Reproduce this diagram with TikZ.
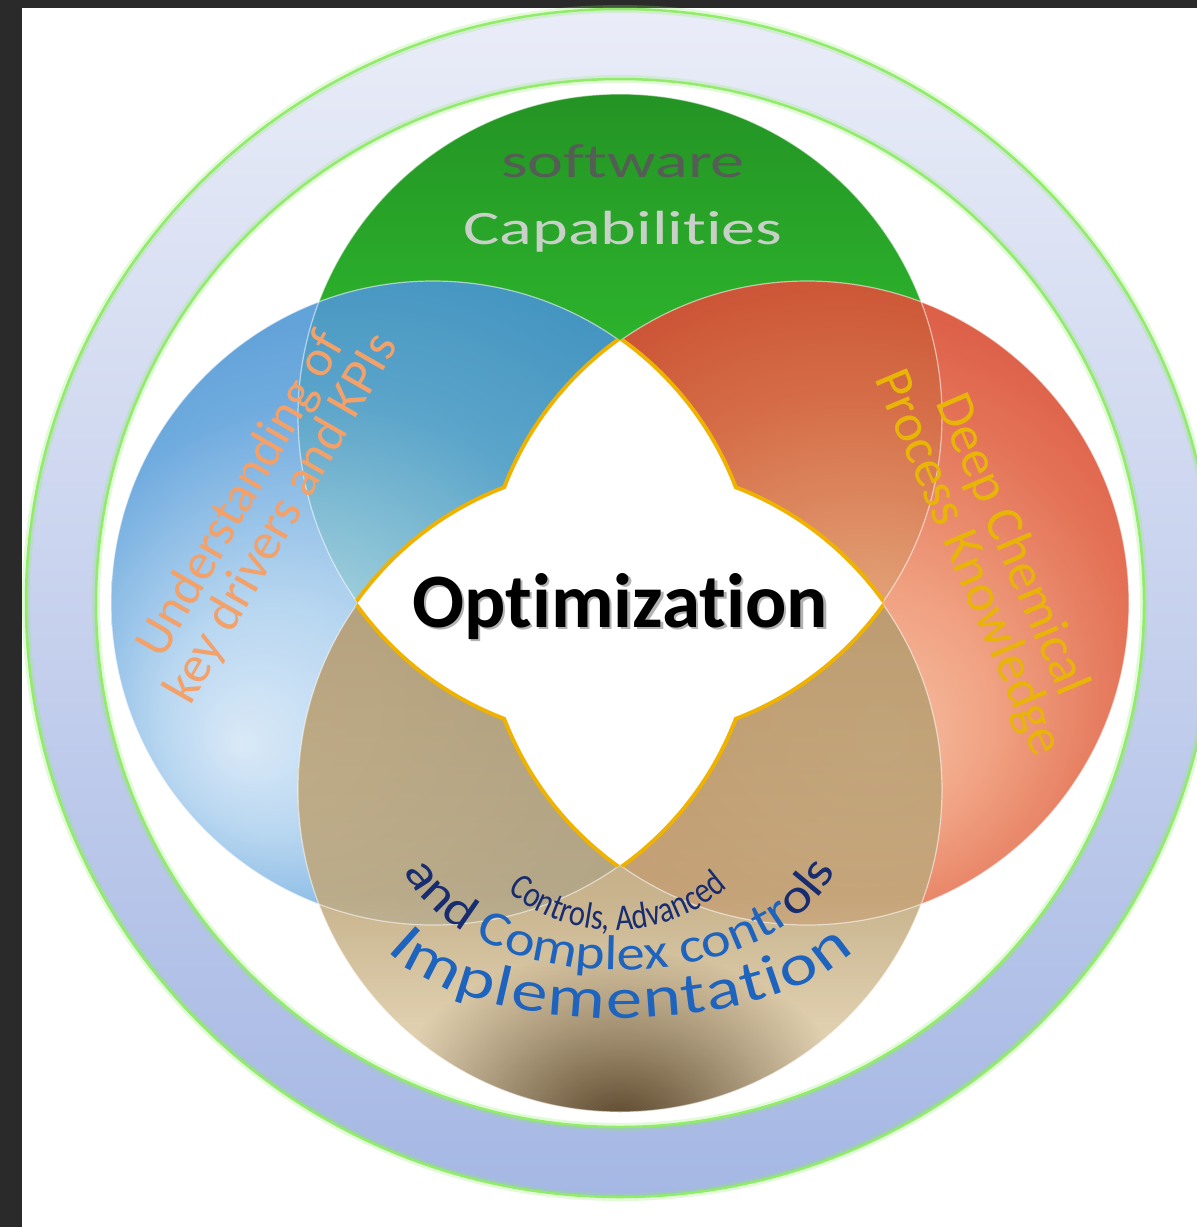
\documentclass[tikz,border=0pt]{standalone}
\usepackage{fontspec}
\setmainfont{Carlito}[Ligatures=NoCommon]
\newfontfamily\narrowfont{Carlito}[FakeStretch=0.82, Ligatures=NoCommon]
\newfontfamily\widefont{Carlito}[FakeStretch=1.15, Ligatures=NoCommon]
\newfontfamily\xwidefont{Carlito}[FakeStretch=1.25, Ligatures=NoCommon]
\usetikzlibrary{decorations.text,fadings}

\definecolor{framedark}{RGB}{42,42,42}
\definecolor{ringtop}{RGB}{234,237,248}
\definecolor{ringbot}{RGB}{165,183,228}
\definecolor{ringline}{RGB}{145,236,105}
\definecolor{gTop}{RGB}{36,148,36}
\definecolor{gBot}{RGB}{58,228,58}
\definecolor{starGold}{RGB}{240,178,0}
\definecolor{leftTxt}{RGB}{244,160,105}
\definecolor{rightTxt}{RGB}{232,180,8}
\definecolor{swTxt}{RGB}{84,94,84}
\definecolor{capTxt}{RGB}{200,208,200}
\definecolor{navyTxt}{RGB}{24,44,112}
\definecolor{blueTxt}{RGB}{30,100,190}
\definecolor{tDark}{RGB}{66,42,10}

% blue and red discs: radial fills with an off-centre light spot
\pgfdeclareradialshading{blueshade}{\pgfpoint{-15bp}{-11bp}}{%
  color(0bp)=(rgb,255:red,214;green,231;blue,247);
  color(9bp)=(rgb,255:red,176;green,210;blue,239);
  color(22bp)=(rgb,255:red,96;green,162;blue,219);
  color(38bp)=(rgb,255:red,54;green,136;blue,204);
  color(50bp)=(rgb,255:red,40;green,124;blue,198)}
\pgfdeclareradialshading{redshade}{\pgfpoint{6bp}{-11bp}}{%
  color(0bp)=(rgb,255:red,246;green,186;blue,156);
  color(9bp)=(rgb,255:red,240;green,158;blue,124);
  color(22bp)=(rgb,255:red,226;green,104;blue,74);
  color(36bp)=(rgb,255:red,210;green,60;blue,42);
  color(50bp)=(rgb,255:red,198;green,40;blue,28)}
% bottom disc: brown at the top, cream band, olive at the bottom
\pgfdeclareverticalshading{tanshade}{100bp}{%
  color(0bp)=(rgb,255:red,140;green,112;blue,70);
  color(8bp)=(rgb,255:red,195;green,172;blue,128);
  color(20bp)=(rgb,255:red,236;green,222;blue,192);
  color(30bp)=(rgb,255:red,224;green,206;blue,170);
  color(42bp)=(rgb,255:red,192;green,168;blue,124);
  color(64bp)=(rgb,255:red,182;green,155;blue,110);
  color(100bp)=(rgb,255:red,188;green,158;blue,108)}
\tikzfading[name=spotfade, inner color=transparent!0, outer color=transparent!100]

\tikzset{
  ringedge/.style={draw=ringline, line width=2.5pt},
  ringglow/.style={draw=ringline, line width=8pt, draw opacity=0.25},
  rim/.style={draw=white, line width=1.2pt, draw opacity=0.55},
  starline/.style={draw=starGold, line width=8pt},
  lefttext/.style={text=leftTxt, font=\fontsize{52}{47}\selectfont, align=center, rotate=60, inner sep=0pt},
  righttext/.style={text=rightTxt, font=\fontsize{53}{47}\selectfont, align=center, rotate=-67, inner sep=0pt},
  toptext/.style={font=\fontsize{48}{48}\selectfont, inner sep=0pt, anchor=base, xscale=1.42},
  optim/.style={font=\bfseries\fontsize{77}{77}\selectfont, inner sep=0pt, anchor=base}
}

\begin{document}
\begin{tikzpicture}[x=1pt,y=-1pt]
\useasboundingbox (0,0) rectangle (1197,1227);
\clip (0,0) rectangle (1197,1227);

% frame and page
\fill[framedark] (0,0) rectangle (1197,1227);
\fill[white] (22,8) rectangle (1197,1227);

\coordinate (O) at (620,603);
\coordinate (Gc) at (620,416);
\coordinate (Bc) at (433,603);
\coordinate (Rc) at (807,603);
\coordinate (Tc) at (620,790);

% outer ring
\shade[top color=ringtop, bottom color=ringbot, even odd rule]
  (O) circle[radius=594] (O) circle[radius=524];
\path[ringglow] (O) circle[radius=594];
\path[ringglow] (O) circle[radius=524];
\path[ringedge] (O) circle[radius=594];
\path[ringedge] (O) circle[radius=524];

% four overlapping discs
\shade[top color=gTop, bottom color=gBot] (Gc) circle[radius=322];
\shade[shading=blueshade, opacity=0.9] (Bc) circle[radius=322];
\shade[shading=redshade, opacity=0.93] (Rc) circle[radius=322];
\begin{scope}[opacity=0.87, transparency group]
  \shade[shading=tanshade] (Tc) circle[radius=322];
  \clip (Tc) circle[radius=322];
  \fill[tDark, path fading=spotfade] (620,1125) ellipse[x radius=240, y radius=175];
\end{scope}
\path[rim] (Gc) circle[radius=322];
\path[rim] (Bc) circle[radius=322];
\path[rim] (Rc) circle[radius=322];
\path[rim] (Tc) circle[radius=322];

% four-pointed centre: union of the two lenses, gold outline
\begin{scope}\clip (Gc) circle[radius=322]; \path[starline] (Tc) circle[radius=322];\end{scope}
\begin{scope}\clip (Tc) circle[radius=322]; \path[starline] (Gc) circle[radius=322];\end{scope}
\begin{scope}\clip (Bc) circle[radius=322]; \path[starline] (Rc) circle[radius=322];\end{scope}
\begin{scope}\clip (Rc) circle[radius=322]; \path[starline] (Bc) circle[radius=322];\end{scope}
\begin{scope}\clip (Gc) circle[radius=322]; \fill[white] (Tc) circle[radius=322];\end{scope}
\begin{scope}\clip (Bc) circle[radius=322]; \fill[white] (Rc) circle[radius=322];\end{scope}

% labels
\node[optim, text=black!30] (optshadow) at (622.5,629.5) {Optimization};
\node[optim, text=black] (opt) at (620,627) {Optimization};

\node[toptext, text=swTxt] (sw) at (623,177) {software};
\node[toptext, text=capTxt] (cap) at (623,244) {Capabilities};

\node[lefttext] (lt) at (262,507) {Understanding of\\key drivers and KPIs};
\node[righttext] (rt) at (989,554) {Deep Chemical\\Process Knowledge};

\coordinate (c1) at (615,760);
\path[decorate, decoration={text along path, text align=center,
  text={|\narrowfont\fontsize{37}{37}\selectfont\color{navyTxt}|Controls, Advanced}}]
  (c1) ++(133:170) arc[start angle=133, end angle=45, radius=170];

\coordinate (c2) at (620,832);
\path[decorate, decoration={text along path, text align=center,
  text={|\widefont\fontsize{49}{49}\selectfont\color{navyTxt}|and |+\color{blueTxt}|Complex contr|+\color{navyTxt}|ols}}]
  (c2) ++(163:225 and 138) arc[start angle=163, end angle=17, x radius=225, y radius=138];

\coordinate (c3) at (620,910);
\path[decorate, decoration={text along path, text align=fit to path,
  text={|\xwidefont\fontsize{58}{58}\selectfont\color{blueTxt}|Implementation}}]
  (c3) ++(158:252 and 108) arc[start angle=158, end angle=22, x radius=252, y radius=108];
\end{tikzpicture}
\end{document}
